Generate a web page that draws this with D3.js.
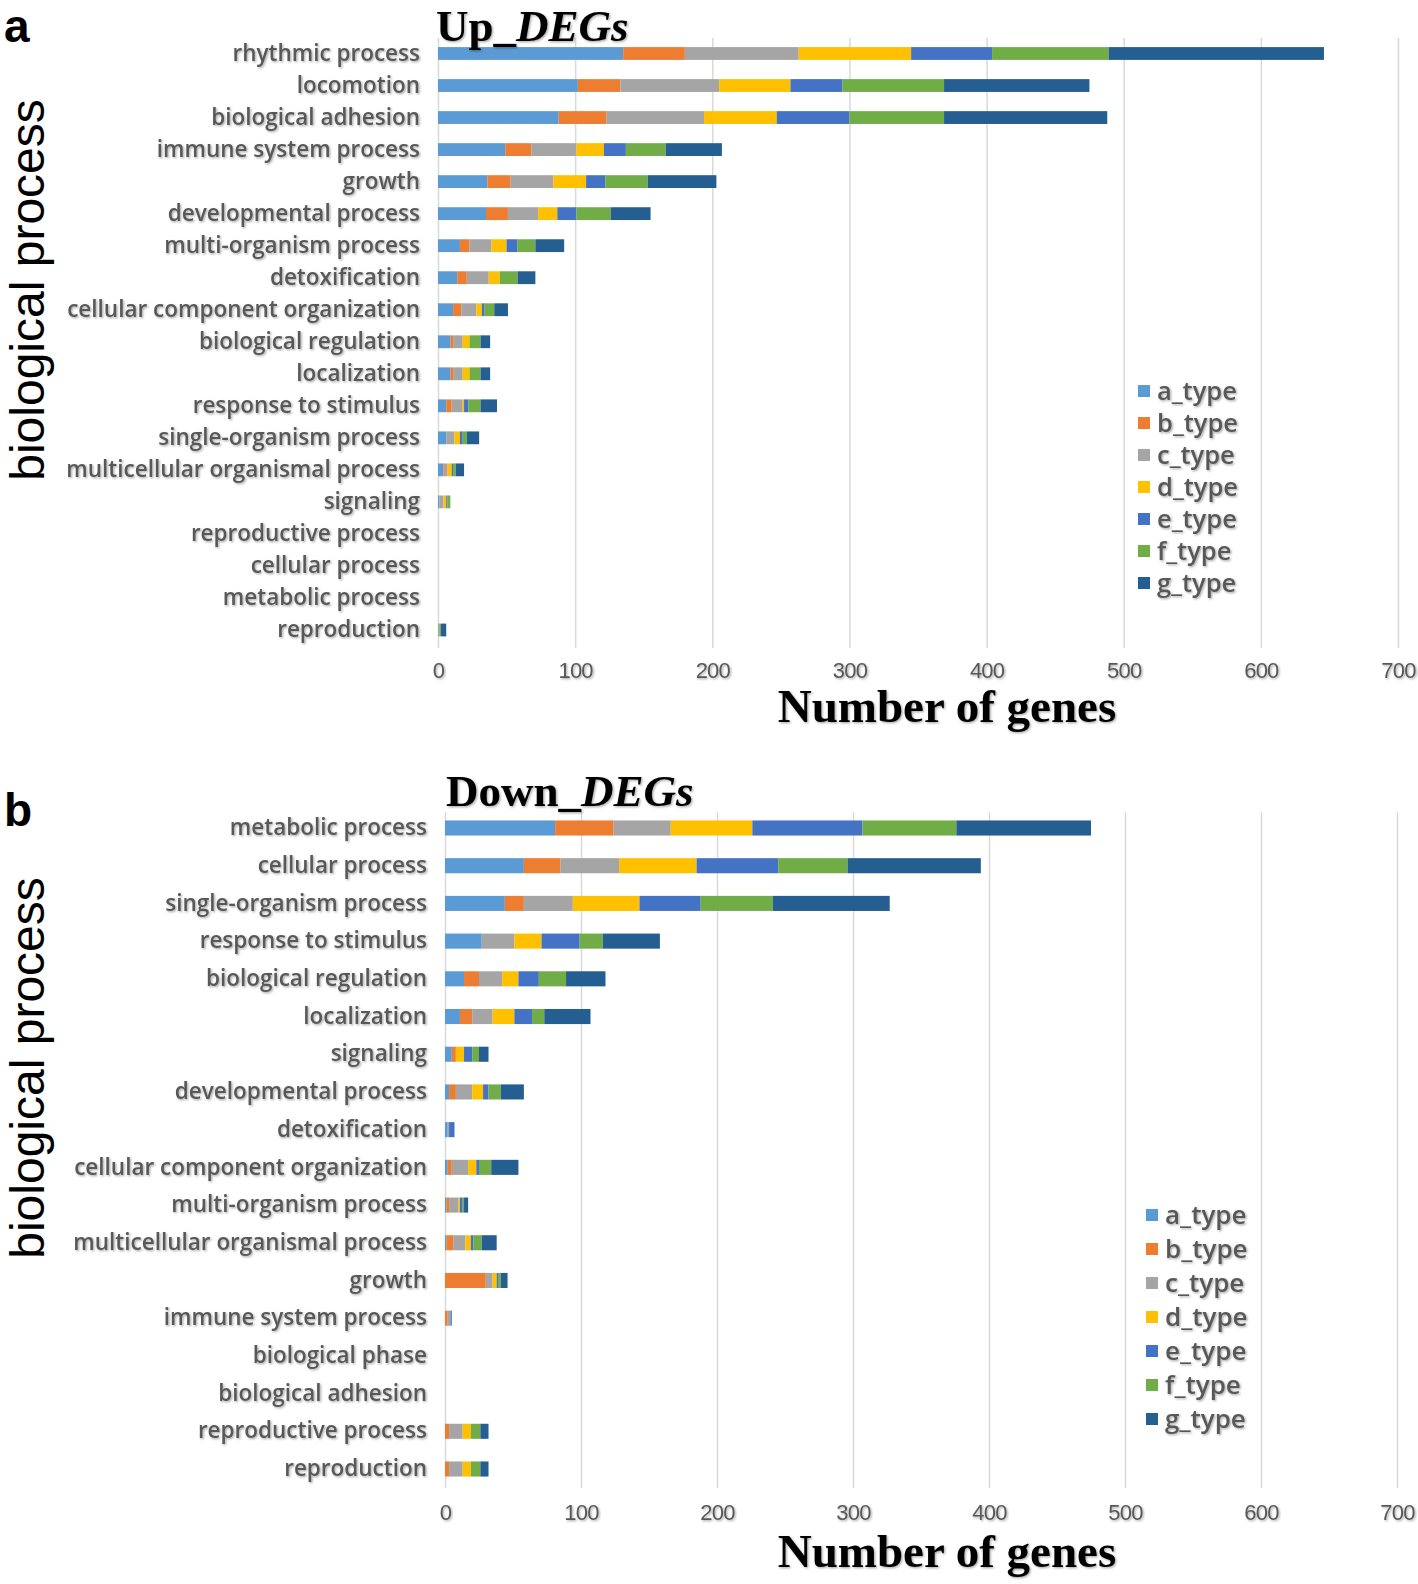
<!DOCTYPE html>
<html>
<head>
<meta charset="utf-8">
<script src="https://cdn.jsdelivr.net/npm/d3@7"></script>
<style>
  body { margin: 0; background: #fff; }
  svg { display: block; }
  .cat text { font-family: "Open Sans", "Noto Sans", sans-serif; font-weight: 600; fill: #595959; }
  .xtick text { font-family: "Liberation Sans Narrow", "Liberation Sans", Arial, sans-serif; fill: #595959; letter-spacing: -0.8px; }
</style>
</head>
<body>
<div id="chart"></div>
<script>
// series names and colours (Excel office palette)
const typeNames = ["a_type", "b_type", "c_type", "d_type", "e_type", "f_type", "g_type"];
const typeColors = ["#5B9BD5", "#ED7D31", "#A5A5A5", "#FFC000", "#4472C4", "#70AD47", "#255E91"];
const xTicks = [0, 100, 200, 300, 400, 500, 600, 700];

// panel a: Up_DEGs
const upCategories = ["rhythmic process", "locomotion", "biological adhesion", "immune system process",
  "growth", "developmental process", "multi-organism process", "detoxification",
  "cellular component organization", "biological regulation", "localization", "response to stimulus",
  "single-organism process", "multicellular organismal process", "signaling", "reproductive process",
  "cellular process", "metabolic process", "reproduction"];
const upA = [135, 102, 88, 49, 36, 35, 16, 14, 11, 9, 9, 6, 6, 4, 1, 0, 0, 0, 0];
const upB = [45, 31, 35, 19, 17, 16, 7, 7, 6, 2, 2, 4, 0, 1, 0, 0, 0, 0, 0];
const upC = [83, 72, 71, 33, 31, 22, 16, 16, 11, 7, 7, 8, 6, 2, 3, 0, 0, 0, 1];
const upD = [82, 52, 53, 20, 24, 14, 11, 8, 4, 5, 5, 1, 4, 3, 2, 0, 0, 0, 0];
const upE = [59, 38, 53, 16, 14, 14, 8, 0, 2, 0, 0, 3, 2, 1, 1, 0, 0, 0, 0];
const upF = [85, 74, 69, 29, 31, 25, 13, 13, 7, 8, 8, 9, 3, 2, 2, 0, 0, 0, 1];
const upG = [157, 106, 119, 41, 50, 29, 21, 13, 10, 7, 7, 12, 9, 6, 0, 0, 0, 0, 4];

// panel b: Down_DEGs
const downCategories = ["metabolic process", "cellular process", "single-organism process", "response to stimulus",
  "biological regulation", "localization", "signaling", "developmental process", "detoxification",
  "cellular component organization", "multi-organism process", "multicellular organismal process",
  "growth", "immune system process", "biological phase", "biological adhesion",
  "reproductive process", "reproduction"];
const downA = [81, 58, 44, 27, 14, 11, 5, 3, 2, 2, 1, 1, 0, 0, 0, 0, 0, 0];
const downB = [43, 27, 14, 0, 11, 9, 3, 5, 0, 3, 2, 5, 30, 2, 0, 0, 3, 3];
const downC = [42, 43, 36, 24, 17, 15, 0, 12, 1, 12, 7, 9, 5, 2, 0, 0, 10, 10];
const downD = [60, 57, 49, 20, 12, 16, 6, 8, 0, 6, 1, 4, 3, 0, 0, 0, 6, 6];
const downE = [81, 60, 45, 28, 15, 13, 6, 4, 4, 2, 2, 2, 1, 1, 0, 0, 0, 0];
const downF = [69, 51, 53, 17, 20, 9, 5, 9, 0, 9, 1, 6, 2, 0, 0, 0, 7, 7];
const downG = [99, 98, 86, 42, 29, 34, 7, 17, 0, 20, 3, 11, 5, 0, 0, 0, 6, 6];

const W = 1418, H = 1584;
const svg = d3.select("#chart").append("svg").attr("width", W).attr("height", H);

// soft shadow like the original office export
const defs = svg.append("defs");
defs.append("filter").attr("id", "shadow")
  .attr("x", "-5%").attr("y", "-20%").attr("width", "110%").attr("height", "140%")
  .append("feDropShadow")
  .attr("dx", 1.2).attr("dy", 1.2).attr("stdDeviation", 0.8)
  .attr("flood-color", "#000").attr("flood-opacity", 0.35);

function buildRows(cats, series) {
  return cats.map((c, i) => {
    const row = { cat: c };
    typeNames.forEach((t, k) => { row[t] = series[k][i]; });
    return row;
  });
}

function drawPanel(p) {
  const rows = buildRows(p.categories, p.series);
  const g = svg.append("g");

  const x = d3.scaleLinear().domain([0, 700]).range([p.x0, p.x1]);
  const step = (p.lastY - p.firstY) / (p.categories.length - 1);
  const y = d3.scaleBand()
    .domain(p.categories)
    .range([p.firstY - step / 2, p.lastY + step / 2])
    .paddingInner(0.6).paddingOuter(0.3);

  // vertical gridlines
  g.append("g")
    .attr("transform", `translate(0,${p.gridBottom})`)
    .call(d3.axisBottom(x).tickValues(xTicks).tickSize(-(p.gridBottom - p.gridTop)).tickFormat(""))
    .call(a => a.select(".domain").remove())
    .call(a => a.selectAll("line").attr("stroke", "#d9d9d9").attr("stroke-width", 1.5));

  // x tick labels
  g.append("g")
    .attr("class", "xtick")
    .attr("transform", `translate(0,${p.tickY})`)
    .call(d3.axisBottom(x).tickValues(xTicks).tickSize(0).tickPadding(0))
    .call(a => a.select(".domain").remove())
    .call(a => a.selectAll("text").attr("font-size", 22).attr("dy", 0).attr("filter", "url(#shadow)"));

  // stacked bars
  const stack = d3.stack().keys(typeNames)(rows);
  g.append("g").selectAll("g")
    .data(stack)
    .join("g")
    .attr("fill", (d, i) => typeColors[i])
    .selectAll("rect")
    .data(d => d)
    .join("rect")
    .attr("x", d => x(d[0]))
    .attr("y", d => y(d.data.cat))
    .attr("width", d => x(d[1]) - x(d[0]))
    .attr("height", y.bandwidth());

  // category labels
  g.append("g")
    .attr("class", "cat")
    .attr("transform", `translate(${p.labelX},0)`)
    .call(d3.axisLeft(y).tickSize(0).tickPadding(0))
    .call(a => a.select(".domain").remove())
    .call(a => a.selectAll("text").attr("font-size", p.labelSize).attr("filter", "url(#shadow)"));

  // panel letter
  g.append("text")
    .attr("x", 4).attr("y", p.letterY)
    .attr("font-family", "Liberation Sans, Arial, sans-serif")
    .attr("font-weight", "bold").attr("font-size", 46)
    .text(p.letter);

  // panel title
  const title = g.append("text")
    .attr("x", p.titleX).attr("y", p.titleY)
    .attr("font-family", "Liberation Serif, Times New Roman, serif")
    .attr("font-weight", "bold").attr("font-size", 45)
    .attr("filter", "url(#shadow)");
  title.append("tspan").text(p.titlePrefix);
  title.append("tspan").attr("font-style", "italic").text("DEGs");

  // y axis title
  g.append("text")
    .attr("transform", `translate(${p.yTitleX},${p.yTitleY}) rotate(-90)`)
    .attr("text-anchor", "middle")
    .attr("font-family", "Liberation Sans, Arial, sans-serif")
    .attr("font-size", 48)
    .text("biological process");

  // x axis title
  g.append("text")
    .attr("x", 947).attr("y", p.xTitleY)
    .attr("text-anchor", "middle")
    .attr("font-family", "Liberation Serif, Times New Roman, serif")
    .attr("font-weight", "bold").attr("font-size", 47)
    .attr("filter", "url(#shadow)")
    .text("Number of genes");

  // legend
  const leg = g.append("g").selectAll("g")
    .data(typeNames)
    .join("g")
    .attr("transform", (d, i) => `translate(${p.legX},${p.legY + i * p.legStep})`);
  leg.append("rect")
    .attr("x", 0).attr("y", -6).attr("width", 12).attr("height", 12)
    .attr("fill", (d, i) => typeColors[i]);
  leg.append("text")
    .attr("x", 19).attr("dy", "0.35em")
    .attr("font-family", "Open Sans, Noto Sans, sans-serif")
    .attr("font-weight", 600).attr("font-size", p.legSize)
    .attr("fill", "#595959")
    .attr("filter", "url(#shadow)")
    .text(d => d);
}

drawPanel({
  categories: upCategories,
  series: [upA, upB, upC, upD, upE, upF, upG],
  x0: 438, x1: 1398,
  firstY: 53.5, lastY: 630,
  gridTop: 38, gridBottom: 648,
  tickY: 678, labelX: 420, labelSize: 22.5,
  letter: "a", letterY: 42,
  titlePrefix: "Up_", titleX: 436, titleY: 41,
  yTitleX: 44, yTitleY: 290,
  xTitleY: 722,
  legX: 1138, legY: 391, legStep: 32, legSize: 25.5
});

drawPanel({
  categories: downCategories,
  series: [downA, downB, downC, downD, downE, downF, downG],
  x0: 445, x1: 1397,
  firstY: 828, lastY: 1469,
  gridTop: 812, gridBottom: 1488,
  tickY: 1520, labelX: 427, labelSize: 22.5,
  letter: "b", letterY: 826,
  titlePrefix: "Down_", titleX: 446, titleY: 806,
  yTitleX: 44, yTitleY: 1068,
  xTitleY: 1567,
  legX: 1146, legY: 1215, legStep: 34, legSize: 26
});
</script>
</body>
</html>
